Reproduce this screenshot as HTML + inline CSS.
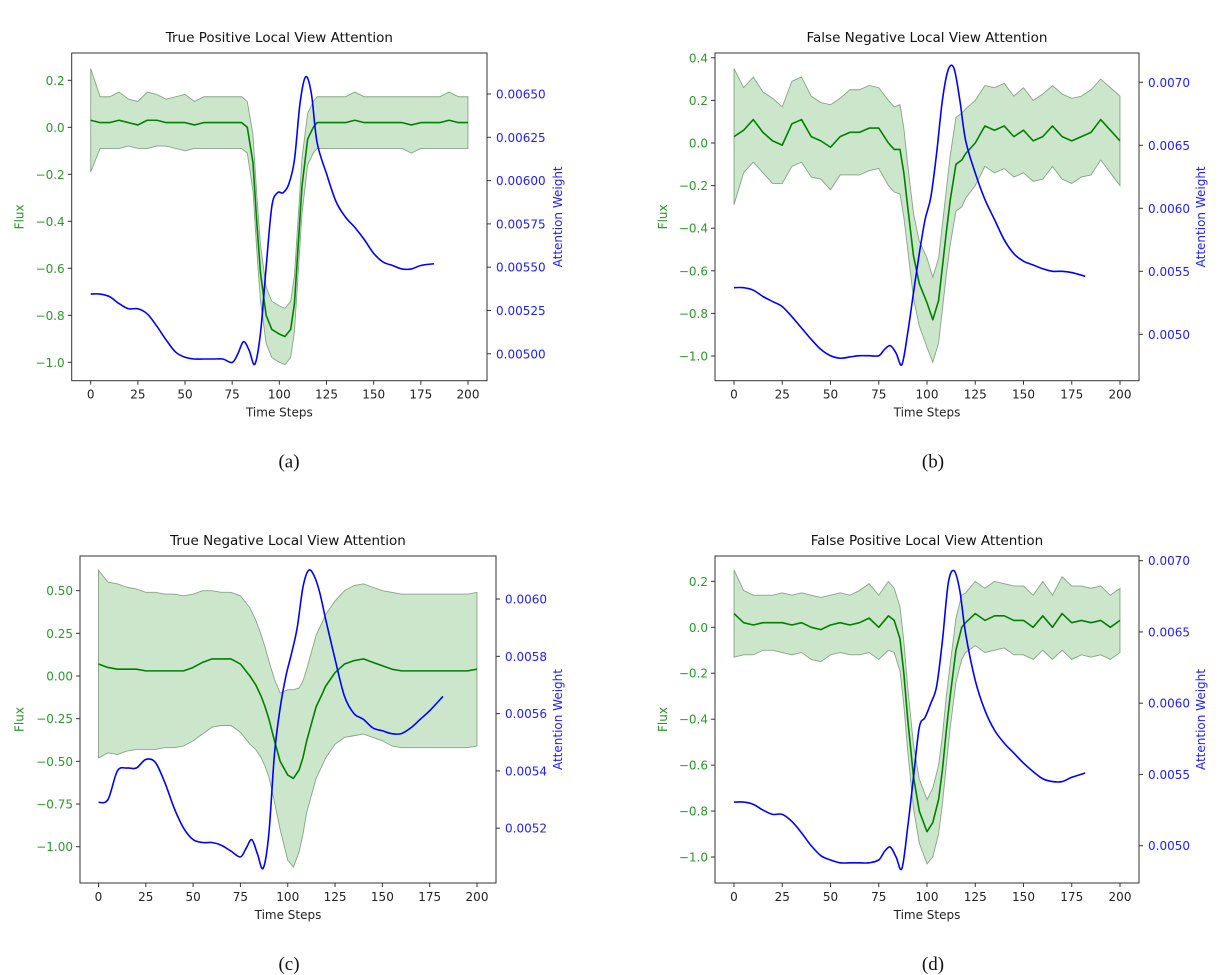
<!DOCTYPE html>
<html><head><meta charset="utf-8">
<style>
html,body{margin:0;padding:0;background:#fff;}
svg{display:block;}
text{font-family:"DejaVu Sans","Liberation Sans",sans-serif;}
.cap{font-family:"Liberation Serif",serif;font-size:19px;}
</style></head>
<body>
<svg id="fig" width="1220" height="975" viewBox="0 0 1220 975" xmlns="http://www.w3.org/2000/svg"></svg>
<script>
// shared x categories
const fluxX = [0,5,10,15,20,25,30,35,40,45,50,55,60,65,70,75,80,83,86,88,90,93,96,100,103,106,108,110,112,115,118,120,125,130,135,140,145,150,155,160,165,170,175,180,185,190,195,200];
const attnX = [0,5,10,15,20,25,30,35,40,45,50,55,60,65,70,75,78,81,84,87,90,93,96,99,102,105,108,111,114,117,120,125,130,135,140,145,150,155,160,165,170,175,182];

// panel (a) True Positive
const meanA = [0.03,0.02,0.02,0.03,0.02,0.01,0.03,0.03,0.02,0.02,0.02,0.01,0.02,0.02,0.02,0.02,0.02,0.0,-0.15,-0.4,-0.62,-0.8,-0.86,-0.88,-0.89,-0.86,-0.75,-0.5,-0.25,-0.05,0.0,0.02,0.02,0.02,0.02,0.03,0.02,0.02,0.02,0.02,0.02,0.01,0.02,0.02,0.02,0.03,0.02,0.02];
const stdA = [0.22,0.11,0.11,0.12,0.1,0.1,0.12,0.11,0.1,0.11,0.12,0.1,0.11,0.11,0.11,0.11,0.11,0.11,0.12,0.12,0.12,0.12,0.12,0.12,0.12,0.12,0.12,0.12,0.12,0.11,0.11,0.11,0.11,0.11,0.11,0.12,0.11,0.11,0.11,0.11,0.11,0.12,0.11,0.11,0.11,0.12,0.11,0.11];
const attnA = [0.005345,0.005345,0.00533,0.00529,0.00526,0.00526,0.00523,0.00516,0.00508,0.00501,0.00498,0.00497,0.00497,0.00497,0.00497,0.00495,0.00500,0.00507,0.00502,0.00494,0.00512,0.00550,0.00585,0.00593,0.00593,0.00598,0.00612,0.00645,0.00660,0.00650,0.00622,0.00604,0.00588,0.00579,0.00573,0.00566,0.00558,0.00553,0.00551,0.00549,0.00549,0.00551,0.00552];

// panel (b) False Negative
const meanB = [0.03,0.06,0.11,0.05,0.01,-0.01,0.09,0.11,0.03,0.01,-0.02,0.03,0.05,0.05,0.07,0.07,0.0,-0.03,-0.03,-0.14,-0.3,-0.53,-0.66,-0.75,-0.83,-0.74,-0.58,-0.42,-0.27,-0.1,-0.08,-0.05,0.0,0.08,0.06,0.08,0.03,0.06,0.01,0.03,0.08,0.03,0.01,0.03,0.05,0.11,0.06,0.01];
const stdB = [0.32,0.2,0.2,0.19,0.2,0.18,0.2,0.2,0.19,0.18,0.2,0.18,0.2,0.2,0.2,0.19,0.2,0.2,0.21,0.21,0.2,0.2,0.2,0.21,0.2,0.2,0.2,0.2,0.21,0.22,0.22,0.21,0.2,0.19,0.2,0.2,0.19,0.2,0.19,0.2,0.19,0.2,0.2,0.19,0.2,0.19,0.2,0.21];
const attnB = [0.00537,0.00537,0.00535,0.00530,0.00526,0.00522,0.00514,0.00505,0.00496,0.00488,0.00483,0.00481,0.00482,0.00483,0.00483,0.00483,0.00488,0.00491,0.00485,0.00476,0.00501,0.00533,0.00564,0.00591,0.00609,0.00644,0.00686,0.00710,0.00711,0.00686,0.00654,0.00628,0.00607,0.00591,0.00575,0.00564,0.00558,0.00555,0.00552,0.00550,0.00550,0.00549,0.00546];

// panel (c) True Negative
const meanC = [0.07,0.05,0.04,0.04,0.04,0.03,0.03,0.03,0.03,0.03,0.05,0.08,0.10,0.10,0.10,0.07,0.0,-0.05,-0.12,-0.18,-0.25,-0.38,-0.5,-0.58,-0.6,-0.55,-0.48,-0.38,-0.3,-0.18,-0.11,-0.06,0.02,0.07,0.09,0.10,0.08,0.06,0.04,0.03,0.03,0.03,0.03,0.03,0.03,0.03,0.03,0.04];
const stdC = [0.55,0.5,0.5,0.48,0.47,0.46,0.46,0.45,0.45,0.44,0.43,0.42,0.4,0.39,0.39,0.4,0.4,0.38,0.36,0.35,0.34,0.36,0.4,0.5,0.52,0.48,0.45,0.42,0.42,0.42,0.42,0.42,0.42,0.43,0.44,0.44,0.44,0.44,0.45,0.45,0.45,0.45,0.45,0.45,0.45,0.45,0.45,0.45];
const attnC = [0.00529,0.00530,0.00540,0.00541,0.00541,0.00544,0.00543,0.00536,0.00527,0.00520,0.00516,0.00515,0.00515,0.00514,0.00512,0.00510,0.00513,0.00516,0.00511,0.00506,0.00518,0.00546,0.00562,0.00573,0.00581,0.00590,0.00604,0.00610,0.00608,0.00602,0.00593,0.00579,0.00566,0.00560,0.00558,0.00555,0.00554,0.00553,0.00553,0.00555,0.00558,0.00561,0.00566];

// panel (d) False Positive
const meanD = [0.06,0.02,0.01,0.02,0.02,0.02,0.01,0.02,0.0,-0.01,0.01,0.02,0.01,0.02,0.04,0.0,0.05,0.03,-0.05,-0.2,-0.4,-0.65,-0.8,-0.89,-0.85,-0.75,-0.62,-0.45,-0.3,-0.1,0.0,0.02,0.06,0.03,0.05,0.05,0.03,0.03,0.0,0.05,0.0,0.06,0.02,0.03,0.02,0.03,0.0,0.03];
const stdD = [0.19,0.14,0.13,0.12,0.12,0.13,0.13,0.13,0.14,0.14,0.13,0.13,0.13,0.14,0.15,0.14,0.15,0.14,0.14,0.14,0.14,0.14,0.14,0.14,0.15,0.15,0.15,0.15,0.14,0.14,0.14,0.13,0.14,0.14,0.15,0.14,0.15,0.15,0.14,0.15,0.14,0.16,0.16,0.15,0.15,0.15,0.14,0.14];
const attnD = [0.005306,0.005306,0.00529,0.00525,0.00522,0.00522,0.00517,0.00509,0.00500,0.00493,0.00490,0.00488,0.00488,0.00488,0.00488,0.00490,0.00496,0.00499,0.00492,0.00484,0.00513,0.00548,0.00583,0.00590,0.00600,0.00612,0.00644,0.00684,0.00693,0.00679,0.00649,0.00616,0.00595,0.00581,0.00572,0.00565,0.00558,0.00552,0.00547,0.00545,0.00545,0.00548,0.00551];

const xTicks = [0,25,50,75,100,125,150,175,200];
const titles = ["True Positive Local View Attention","False Negative Local View Attention","True Negative Local View Attention","False Positive Local View Attention"];
const captions = ["(a)","(b)","(c)","(d)"];
const leftTicksA = [0.2,0.0,-0.2,-0.4,-0.6,-0.8,-1.0];
const leftTicksB = [0.4,0.2,0.0,-0.2,-0.4,-0.6,-0.8,-1.0];
const leftTicksC = [0.5,0.25,0.0,-0.25,-0.5,-0.75,-1.0];
const leftTicksD = [0.2,0.0,-0.2,-0.4,-0.6,-0.8,-1.0];
const rightTicksA = [0.005,0.00525,0.0055,0.00575,0.006,0.00625,0.0065];
const rightTicksB = [0.005,0.0055,0.006,0.0065,0.007];
const rightTicksC = [0.0052,0.0054,0.0056,0.0058,0.006];
const rightTicksD = [0.005,0.0055,0.006,0.0065,0.007];

const NS = "http://www.w3.org/2000/svg";
const svg = document.getElementById('fig');
function mk(tag, attrs, parent){const e=document.createElementNS(NS,tag);for(const k in attrs)e.setAttribute(k,attrs[k]);(parent||svg).appendChild(e);return e;}
function fmt(v,d){const s=Math.abs(v).toFixed(d);return (v<-1e-12?"\u2212":"")+s;}
function smooth(pts){
  let d="M"+pts[0][0].toFixed(2)+","+pts[0][1].toFixed(2);
  for(let i=0;i<pts.length-1;i++){
    const p0=pts[Math.max(0,i-1)],p1=pts[i],p2=pts[i+1],p3=pts[Math.min(pts.length-1,i+2)];
    const c1=[p1[0]+(p2[0]-p0[0])/6,p1[1]+(p2[1]-p0[1])/6];
    const c2=[p2[0]-(p3[0]-p1[0])/6,p2[1]-(p3[1]-p1[1])/6];
    d+=" C"+c1[0].toFixed(2)+","+c1[1].toFixed(2)+" "+c2[0].toFixed(2)+","+c2[1].toFixed(2)+" "+p2[0].toFixed(2)+","+p2[1].toFixed(2);
  }
  return d;
}

const panels = [
 {id:"a",L:71.7,R:487,T:53,B:380.7,x0:90.7,x200:468,y0L:127.3,kL:235,rRef:0.0065,rRefY:94,kR:173200,lt:leftTicksA,ld:1,rt:rightTicksA,rd:5,mean:meanA,std:stdA,attn:attnA,title:titles[0],cap:captions[0],capX:289,flx:19.5,awx:558},
 {id:"b",L:715,R:1139,T:53,B:380.7,x0:734,x200:1120,y0L:143,kL:213,rRef:0.007,rRefY:82.3,kR:126000,lt:leftTicksB,ld:1,rt:rightTicksB,rd:4,mean:meanB,std:stdB,attn:attnB,title:titles[1],cap:captions[1],capX:933,flx:663,awx:1201},
 {id:"c",L:80,R:496,T:556,B:883,x0:98.5,x200:477,y0L:676,kL:170.7,rRef:0.006,rRefY:599,kR:286500,lt:leftTicksC,ld:2,rt:rightTicksC,rd:4,mean:meanC,std:stdC,attn:attnC,title:titles[2],cap:captions[2],capX:289,flx:19.5,awx:558},
 {id:"d",L:715,R:1139,T:556,B:883,x0:734,x200:1120,y0L:627.3,kL:229.7,rRef:0.007,rRefY:560.7,kR:142500,lt:leftTicksD,ld:1,rt:rightTicksD,rd:4,mean:meanD,std:stdD,attn:attnD,title:titles[3],cap:captions[3],capX:933,flx:663,awx:1201}
];

panels.forEach(p=>{
  const g = mk('g',{});
  
  
  const xs = v => p.x0 + (p.x200-p.x0)*v/200;
  const yl = v => p.y0L - p.kL*v;
  const yr = v => p.rRefY - p.kR*(v-p.rRef);
  const cx=(p.L+p.R)/2;

  // band
  const up = fluxX.map((x,i)=>[xs(x),yl(p.mean[i]+p.std[i])]);
  const lo = fluxX.map((x,i)=>[xs(x),yl(p.mean[i]-p.std[i])]);
  const band = mk('path',{d:"M"+up.map(q=>q[0].toFixed(2)+","+q[1].toFixed(2)).join(" L")+" L"+lo.slice().reverse().map(q=>q[0].toFixed(2)+","+q[1].toFixed(2)).join(" L")+" Z",fill:"rgba(0,128,0,0.2)",stroke:"rgba(40,90,40,0.5)","stroke-width":0.9},g);
  
  
  const ml = mk('polyline',{points:fluxX.map((x,i)=>xs(x).toFixed(2)+","+yl(p.mean[i]).toFixed(2)).join(" "),fill:"none",stroke:"#008000","stroke-width":1.6,"stroke-linejoin":"round"},g);
  
  
  const al = mk('path',{d:smooth(attnX.map((x,i)=>[xs(x),yr(p.attn[i])])),fill:"none",stroke:"#0000ff","stroke-width":1.6},g);
  
  

  // frame
  const fr = mk('rect',{x:p.L,y:p.T,width:p.R-p.L,height:p.B-p.T,fill:"none",stroke:"#333","stroke-width":1},g);
  
  

  // x ticks
  xTicks.forEach(t=>{
    mk('line',{x1:xs(t),x2:xs(t),y1:p.B,y2:p.B+4,stroke:"#333","stroke-width":1},g);
    const tx = mk('text',{x:xs(t),y:p.B+18,"text-anchor":"middle","font-size":12,fill:"#222"},g);
    tx.textContent=t;
    
    
  });
  p.lt.forEach(t=>{
    mk('line',{x1:p.L-4,x2:p.L,y1:yl(t),y2:yl(t),stroke:"#333","stroke-width":1},g);
    const tx = mk('text',{x:p.L-7,y:yl(t)+4.5,"text-anchor":"end","font-size":12,fill:"#2a9a2a"},g);
    tx.textContent=fmt(t,p.ld);
    
    
  });
  p.rt.forEach(t=>{
    mk('line',{x1:p.R,x2:p.R+4,y1:yr(t),y2:yr(t),stroke:"#333","stroke-width":1},g);
    const tx = mk('text',{x:p.R+9,y:yr(t)+4.5,"text-anchor":"start","font-size":12,fill:"#2020ff"},g);
    tx.textContent=t.toFixed(p.rd);
    
    
  });
  const ti = mk('text',{x:cx,y:p.T-11,"text-anchor":"middle","font-size":13.5,fill:"#111"},g);
  ti.textContent=p.title;
  
  
  const xl = mk('text',{x:cx,y:p.B+36,"text-anchor":"middle","font-size":12,fill:"#222"},g);
  xl.textContent="Time Steps";
  
  
  const my=(p.T+p.B)/2;
  const fl = mk('text',{x:p.flx+4,y:my,"text-anchor":"middle","font-size":12,fill:"#2a9a2a",transform:"rotate(-90 "+(p.flx+4)+" "+my+")"},g);
  fl.textContent="Flux";
  
  
  const aw = mk('text',{x:p.awx+4,y:my,"text-anchor":"middle","font-size":12,fill:"#2020ff",transform:"rotate(-90 "+(p.awx+4)+" "+my+")"},g);
  aw.textContent="Attention Weight";
  
  
  const cp = mk('text',{x:p.capX,y:p.B+87,"text-anchor":"middle",class:"cap",fill:"#111"},g);
  cp.textContent=p.cap;
  
  
});
</script>
</body></html>
